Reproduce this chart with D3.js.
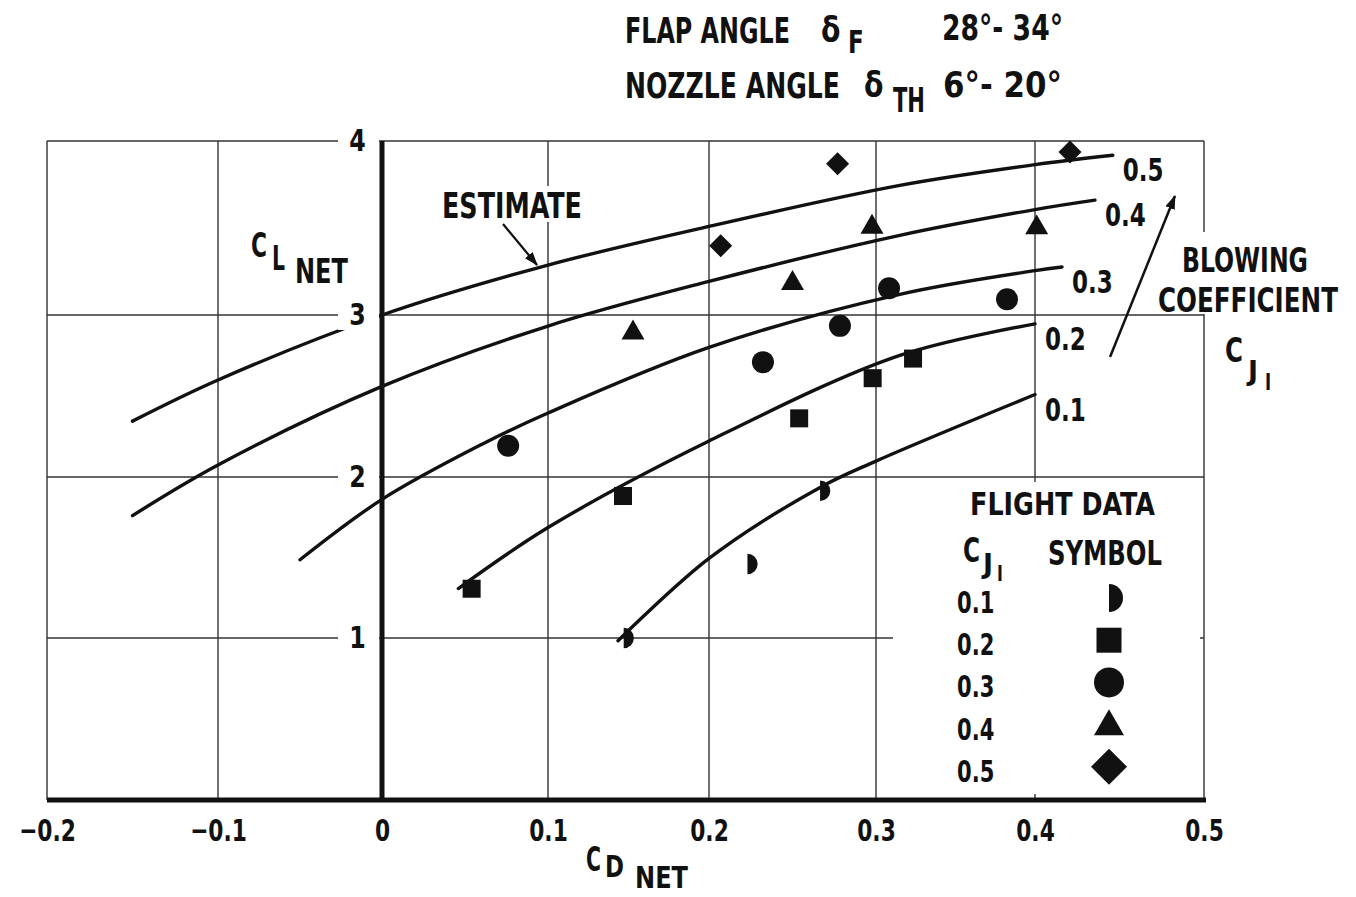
<!DOCTYPE html>
<html><head><meta charset="utf-8">
<script src="https://cdn.jsdelivr.net/npm/d3@7"></script>
<style>
html,body{margin:0;padding:0;background:#fff;}
svg text{font-family:"Liberation Sans Narrow","DejaVu Sans Condensed","DejaVu Sans",sans-serif;font-weight:bold;fill:#111;}
</style></head><body>
<svg id="chart" width="1356" height="897"></svg>
<script>
// ---------- data ----------
const xTicks = [-0.2, -0.1, 0, 0.1, 0.2, 0.3, 0.4, 0.5];
const yTicks = [0, 1, 2, 3, 4];
const yTickLabels = [1, 2, 3, 4];
const cjLevels = [0.1, 0.2, 0.3, 0.4, 0.5];
const cjLabels = ["0.1", "0.2", "0.3", "0.4", "0.5"];

// estimate curves (C_D net, C_L net)
const est01 = [[0.1435,0.983],[0.2,1.494],[0.2665,1.935],[0.3,2.098],[0.4,2.509]];
const est02 = [[0.046,1.307],[0.1,1.686],[0.2,2.222],[0.315,2.751],[0.4,2.945]];
const est03 = [[-0.05,1.486],[0,1.861],[0.06,2.201],[0.1,2.395],[0.2,2.80],[0.315,3.119],[0.4,3.255],[0.416,3.276]];
const est04 = [[-0.15,1.76],[-0.1,2.074],[0,2.559],[0.1,2.932],[0.2,3.193],[0.315,3.458],[0.4,3.606],[0.4355,3.66]];
const est05 = [[-0.15,2.345],[-0.1,2.599],[0,3.0],[0.1,3.287],[0.2,3.509],[0.315,3.745],[0.4,3.864],[0.446,3.918]];

// flight data points
const flight01 = [[0.147,1.0],[0.223,1.46],[0.2665,1.914]];
const flight02 = [[0.054,1.306],[0.1466,1.882],[0.254,2.362],[0.298,2.61],[0.3233,2.731]];
const flight03 = [[0.076,2.193],[0.2323,2.709],[0.2784,2.933],[0.3082,3.154],[0.3824,3.09]];
const flight04 = [[0.1528,2.89],[0.250,3.182],[0.2976,3.505],[0.401,3.502]];
const flight05 = [[0.207,3.398],[0.277,3.869],[0.4207,3.937]];

const estimates = [est01, est02, est03, est04, est05];
const flights = [flight01, flight02, flight03, flight04, flight05];

// ---------- setup ----------
const svg = d3.select("#chart");
const x = d3.scaleLinear().domain(xTicks).range([47,218,382,548,709,876,1035,1204]);
const y = d3.scaleLinear().domain(yTicks).range([800,638,477,315,141]);

const halfDisc = {draw(ctx, size){const r=Math.sqrt(size/Math.PI); ctx.moveTo(0,-r); ctx.arc(0,0,r,-Math.PI/2,Math.PI/2); ctx.closePath();}};
const symTypes = [halfDisc, d3.symbolSquare, d3.symbolCircle, d3.symbolTriangle, d3.symbolSquare];
const symRot = [0,0,0,0,45];
const plotSizes = [330, 324, 380, 229, 265];
const legSizes = [616, 625, 707, 390, 650];

const defs = svg.append("defs");
defs.append("marker").attr("id","ah").attr("viewBox","0 0 14 10").attr("refX",13).attr("refY",5)
  .attr("markerWidth",14).attr("markerHeight",10).attr("markerUnits","userSpaceOnUse").attr("orient","auto")
  .append("path").attr("d","M0,0 L14,5 L0,10 Z").attr("fill","#111");

// ---------- grid ----------
const grid = svg.append("g");
grid.selectAll(".vg").data(xTicks.filter(d=>d!==0)).join("line")
  .attr("x1",d=>x(d)).attr("x2",d=>x(d)).attr("y1",y(4)).attr("y2",y(0))
  .attr("stroke","#333").attr("stroke-width",1.4);
grid.selectAll(".hg").data(yTicks.filter(d=>d>0)).join("line")
  .attr("x1",x(-0.2)).attr("x2",x(0.5)).attr("y1",d=>y(d)).attr("y2",d=>y(d))
  .attr("stroke","#333").attr("stroke-width",1.4);

// masks (paper gaps behind labels)
const mask = svg.append("g").attr("fill","#fff");
mask.append("rect").attr("x",437).attr("y",186).attr("width",150).attr("height",36);
mask.append("rect").attr("x",1150).attr("y",232).attr("width",206).attr("height",82);
mask.append("rect").attr("x",893).attr("y",482).attr("width",307).attr("height",312);

// ---------- curves ----------
const line = d3.line().x(d=>x(d[0])).y(d=>y(d[1])).curve(d3.curveCatmullRom.alpha(0.5));
svg.append("g").selectAll("path").data(estimates).join("path")
  .attr("d",line).attr("fill","none").attr("stroke","#111").attr("stroke-width",3.4).attr("stroke-linecap","round");

// y label gaps (drawn over grid and curves)
svg.append("g").attr("fill","#fff").selectAll("rect").data(yTickLabels).join("rect")
  .attr("x",x(0)-44).attr("width",41).attr("y",d=>y(d)-15).attr("height",30);

// ---------- axes ----------
svg.append("line").attr("x1",x(0)).attr("x2",x(0)).attr("y1",y(4)).attr("y2",y(0))
  .attr("stroke","#111").attr("stroke-width",5);
svg.append("line").attr("x1",x(-0.2)).attr("x2",x(0.5)+2).attr("y1",y(0)).attr("y2",y(0))
  .attr("stroke","#111").attr("stroke-width",5);

const yAx = svg.append("g").attr("transform",`translate(${x(0)},0)`)
  .call(d3.axisLeft(y).tickValues(yTickLabels).tickSize(0).tickPadding(19).tickFormat(d3.format("d")));
yAx.select(".domain").remove();
yAx.selectAll("text").attr("font-size",31).attr("font-family",null).attr("transform","scale(0.85,1)");

const xAx = svg.append("g").attr("transform",`translate(0,${y(0)})`)
  .call(d3.axisBottom(x).tickValues(xTicks).tickSize(0).tickPadding(19)
    .tickFormat(d=> d===0 ? "0" : d3.format(".1f")(d)));
xAx.select(".domain").remove();
xAx.selectAll("text").attr("font-size",31).attr("font-family",null).attr("transform","scale(0.78,1)");

// curve labels
svg.append("g").selectAll("text").data(estimates).join("text")
  .attr("transform",d=>`translate(${x(d[d.length-1][0])+10},${y(d[d.length-1][1])+26}) scale(0.8,1)`)
  .attr("font-size",32).text((d,i)=>cjLabels[i]);

// ---------- points ----------
flights.forEach((pts,i)=>{
  svg.append("g").selectAll("path").data(pts).join("path")
    .attr("transform",d=>`translate(${x(d[0])},${y(d[1])}) rotate(${symRot[i]})`)
    .attr("d",d3.symbol().type(symTypes[i]).size(plotSizes[i])())
    .attr("fill","#111");
});

// ---------- annotations ----------
function label(txt, px, py, size, len, sx){
  const t = svg.append("text").attr("x",0).attr("y",0).attr("font-size",size).text(txt);
  let s = sx || 0.8;
  if(len){ const w = t.node().getComputedTextLength(); if(w>0) s = len / w; }
  t.attr("transform",`translate(${px},${py}) scale(${s},1)`);
  return t;
}
// title
label("FLAP ANGLE",625,43,35,165);
label("δ",821,42,35,null,0.9);
label("F",848,53,32,null,0.8);
label("28°- 34°",942,40,35,121);
label("NOZZLE ANGLE",625,98,35,215);
label("δ",864,97,35,null,0.9);
label("TH",893,112,34,32);
label("6°- 20°",943,97,35,119);

// axis titles
label("C",251,257,33,16);
label("L",272,270,33,13);
label("NET",295,283,33,53);
label("C",586,871,33,15);
label("D",605,877,31,19);
label("NET",635,888,30,53);

// estimate
label("ESTIMATE",442,218,35,140);
svg.append("line").attr("x1",x(0.0729)).attr("y1",y(3.523)).attr("x2",x(0.0934)).attr("y2",y(3.287))
  .attr("stroke","#111").attr("stroke-width",2.2).attr("marker-end","url(#ah)");

// blowing coefficient
svg.append("line").attr("x1",x(0.4444)).attr("y1",y(2.741)).attr("x2",x(0.4828)).attr("y2",y(3.684))
  .attr("stroke","#111").attr("stroke-width",2.5).attr("marker-end","url(#ah)");
label("BLOWING",1182,272,33,126);
label("COEFFICIENT",1158,312,33,180);
label("C",1225,362,33,18);
label("J",1248,380,27,10);
label("I",1265,390,23,null,0.8);

// legend
label("FLIGHT DATA",970,515,32,185);
label("C",963,562,33,17);
label("J",983,573,27,10);
label("I",997,581,22,null,0.8);
label("SYMBOL",1048,565,33,114);
const leg = svg.append("g");
leg.selectAll("text").data(cjLevels).join("text")
  .attr("transform",(d,i)=>`translate(957,${613+i*42.2}) scale(0.78,1)`)
  .attr("font-size",30).text((d,i)=>cjLabels[i]);
leg.selectAll("path").data(cjLevels).join("path")
  .attr("transform",(d,i)=>`translate(1109,${613+i*42.2-15 + (i===3?2:0)}) rotate(${symRot[i]})`)
  .attr("d",(d,i)=>d3.symbol().type(symTypes[i]).size(legSizes[i])())
  .attr("fill","#111");
</script>
</body></html>
